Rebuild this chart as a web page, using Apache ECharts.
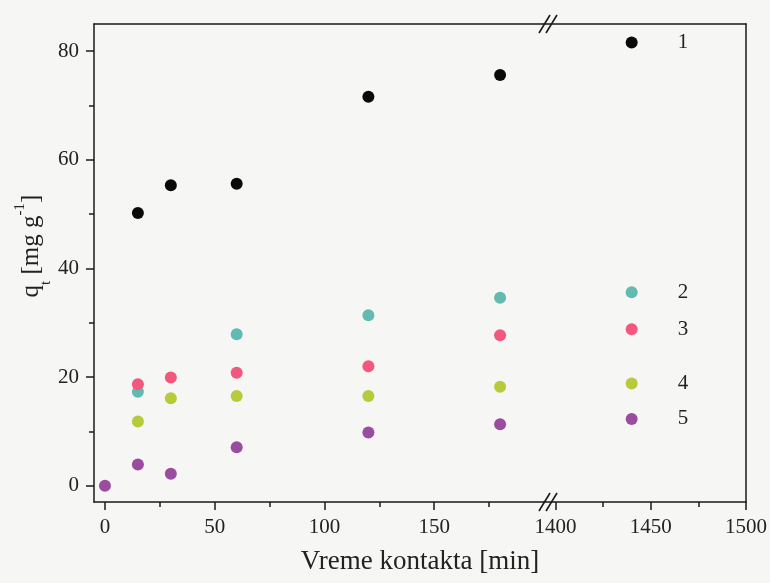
<!DOCTYPE html>
<html><head><meta charset="utf-8">
<script src="https://cdn.jsdelivr.net/npm/echarts@6/dist/echarts.min.js"></script>
<style>html,body{margin:0;padding:0;background:#f6f6f4;}#c{width:770px;height:583px;}</style>
</head><body><div id="c"></div>
<script>
// ---- data ----
const timesShort = [0, 15, 30, 60, 120, 180];
const timeLong = 1440;
const seriesNames = ['1', '2', '3', '4', '5'];
const s1 = [null, 50.2, 55.3, 55.6, 71.6, 75.6, 81.6];
const s2 = [null, 17.3, null, 27.9, 31.4, 34.6, 35.6];
const s3 = [null, 18.7, 19.9, 20.8, 22.0, 27.7, 28.8];
const s4 = [null, 11.8, 16.1, 16.5, 16.5, 18.2, 18.8];
const s5 = [0, 3.9, 2.2, 7.1, 9.8, 11.3, 12.3];
const xTicksLeft = [0, 50, 100, 150];
const xMinorLeft = [25, 75, 125, 175];
const xTicksRight = [1400, 1450, 1500];
const xMinorRight = [1425, 1475];
const yTicks = [0, 20, 40, 60, 80];
const yMinor = [10, 30, 50, 70];
const colors = ['#0a0a0a', '#62bab2', '#f2577d', '#b6ca3c', '#9a4d9f'];

const allData = [s1, s2, s3, s4, s5];
const FONT = 'Liberation Serif';
const lineStyle = {color: '#1a1a1a', width: 1.5};
const lbl = {fontFamily: FONT, fontSize: 21, color: '#222', formatter: v => String(v)};

function majorAxis(gridIndex, min, max, ticks, pos) {
  return {type: 'value', gridIndex, min, max, position: pos,
    axisLine: {show: true, onZero: false, lineStyle}, splitLine: {show: false},
    axisTick: {show: true, inside: false, length: 8, lineStyle, customValues: ticks},
    axisLabel: Object.assign({show: true, margin: 15, customValues: ticks}, lbl)};
}
function minorAxis(gridIndex, min, max, ticks, pos) {
  return {type: 'value', gridIndex, min, max, position: pos,
    axisLine: {show: false, onZero: false}, splitLine: {show: false},
    axisTick: {show: true, inside: false, length: 5, lineStyle, customValues: ticks},
    axisLabel: {show: false, customValues: ticks}};
}
function lineAxis(gridIndex, min, max, pos) {
  return {type: 'value', gridIndex, min, max, position: pos,
    axisLine: {show: true, onZero: false, lineStyle}, splitLine: {show: false},
    axisTick: {show: false}, axisLabel: {show: false}};
}

const series = [];
allData.forEach((arr, i) => {
  const left = timesShort.map((t, k) => arr[k] == null ? null : [t, arr[k]]).filter(d => d);
  series.push({type: 'scatter', name: seriesNames[i], xAxisIndex: 0, yAxisIndex: 0,
    symbolSize: 12, itemStyle: {color: colors[i], opacity: 1}, data: left, z: 10 + i});
  series.push({type: 'scatter', name: seriesNames[i] + 'r', xAxisIndex: 2, yAxisIndex: 2,
    symbolSize: 12, itemStyle: {color: colors[i], opacity: 1}, z: 10 + i,
    label: {show: true, position: 'right', distance: 40, formatter: seriesNames[i],
      fontFamily: FONT, fontSize: 21, color: '#222'},
    data: [[timeLong, arr[6]]]});
});

const chart = echarts.init(document.getElementById('c'), null, {renderer: 'canvas'});
chart.setOption({
  backgroundColor: '#f6f6f4',
  animation: false,
  grid: [
    {left: 94, top: 24, width: 450, height: 478},
    {left: 544, top: 24, width: 202, height: 478}
  ],
  xAxis: [
    majorAxis(0, -5, 200, xTicksLeft, 'bottom'),
    minorAxis(0, -5, 200, xMinorLeft, 'bottom'),
    majorAxis(1, 1394, 1500, xTicksRight, 'bottom'),
    minorAxis(1, 1394, 1500, xMinorRight, 'bottom'),
    lineAxis(0, -5, 200, 'top'),
    lineAxis(1, 1394, 1500, 'top')
  ],
  yAxis: [
    majorAxis(0, -3, 85, yTicks, 'left'),
    minorAxis(0, -3, 85, yMinor, 'left'),
    lineAxis(1, -3, 85, 'right')
  ],
  series
});

// decorations: axis titles and axis-break marks
const bx = chart.convertToPixel({xAxisIndex: 2}, 1394);
const yBot = chart.convertToPixel({yAxisIndex: 0}, -3);
const yTop = chart.convertToPixel({yAxisIndex: 0}, 85);
const xc0 = chart.convertToPixel({xAxisIndex: 0}, -5);
const xc1 = chart.convertToPixel({xAxisIndex: 2}, 1500);
function slashes(cx, cy) {
  const st = {stroke: '#1a1a1a', lineWidth: 1.6};
  return [
    {type: 'line', shape: {x1: cx - 10, y1: cy + 9, x2: cx + 1, y2: cy - 9}, style: st, z: 100},
    {type: 'line', shape: {x1: cx - 3, y1: cy + 9, x2: cx + 8, y2: cy - 9}, style: st, z: 100}
  ];
}
chart.setOption({graphic: [
  {type: 'text', x: (xc0 + xc1) / 2, y: 548, style: {text: 'Vreme kontakta [min]', fontFamily: FONT, fontSize: 27, fill: '#222', textAlign: 'center'}},
  {type: 'text', x: 31, y: 246, rotation: Math.PI / 2,
    style: {text: '{n|q}{sub|t}{n| [mg g}{sup|-1}{n|]}', textAlign: 'center', textVerticalAlign: 'middle',
      rich: {
        n: {fontFamily: FONT, fontSize: 25, fill: '#222', lineHeight: 30},
        sub: {fontFamily: FONT, fontSize: 15, fill: '#222', verticalAlign: 'bottom', lineHeight: 30, padding: [0,0,-8,0]},
        sup: {fontFamily: FONT, fontSize: 15, fill: '#222', verticalAlign: 'top', lineHeight: 30, padding: [-3,0,0,0]}
      }}},
  ...slashes(bx + 5, yBot),
  ...slashes(bx + 5, yTop)
]});
</script></body></html>
